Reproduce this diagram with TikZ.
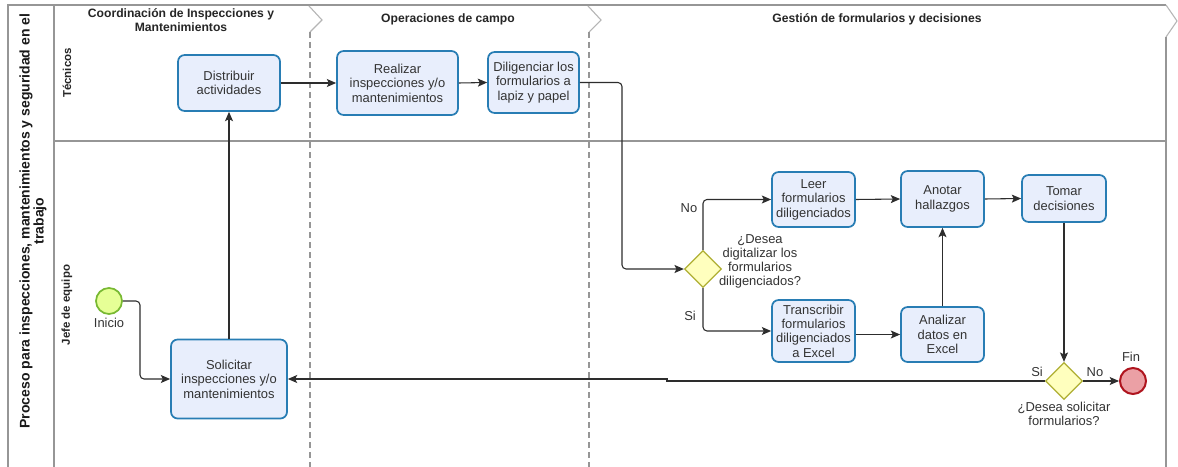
\documentclass[tikz,border=0pt]{standalone}
\usepackage{fontspec}
\setmainfont{Liberation Sans}
\usetikzlibrary{shapes.geometric,arrows.meta}
\definecolor{taskfill}{RGB}{232,238,252}
\definecolor{taskdraw}{RGB}{40,125,180}
\definecolor{txt}{RGB}{51,51,51}
\definecolor{gwfill}{RGB}{255,255,190}
\definecolor{gwdraw}{RGB}{175,175,50}
\definecolor{stfill}{RGB}{230,255,150}
\definecolor{stdraw}{RGB}{120,185,50}
\definecolor{enfill}{RGB}{235,160,165}
\definecolor{endraw}{RGB}{175,20,30}
\definecolor{poolc}{RGB}{150,150,150}
\definecolor{connc}{RGB}{45,45,45}
\begin{document}
\begin{tikzpicture}[x=0.75pt,y=-0.75pt,
  task/.style={draw=taskdraw, fill=taskfill, line width=1.3pt, rounded corners=5pt,
    text=txt, align=center, font=\fontsize{9.7}{10.8}\selectfont, inner sep=1pt},
  gateway/.style={diamond, aspect=1, draw=gwdraw, fill=gwfill, line width=1pt,
    minimum width=27.75pt, minimum height=27.75pt, inner sep=0pt},
  startev/.style={circle, draw=stdraw, fill=stfill, line width=1.3pt, minimum size=19.5pt, inner sep=0pt},
  endev/.style={circle, draw=endraw, fill=enfill, line width=1.5pt, minimum size=19.5pt, inner sep=0pt},
  lbl/.style={text=txt, align=center, font=\fontsize{9.7}{10.5}\selectfont, inner sep=0pt},
  hdr/.style={text=black!85, align=center, font=\bfseries\fontsize{9.1}{10.5}\selectfont, inner sep=0pt},
  lanelbl/.style={text=black!85, rotate=90, font=\bfseries\fontsize{8.6}{10}\selectfont, inner sep=0pt},
  poolline/.style={draw=poolc, line width=1pt},
  phasesep/.style={draw=poolc, line width=0.9pt, dash pattern=on 4.5pt off 3pt},
  chev/.style={draw=poolc!70, line width=0.8pt},
  conn/.style={draw=connc, line width=0.8pt, rounded corners=3pt, -{Stealth[length=7pt,width=6pt,inset=1.5pt]}}
]
\useasboundingbox (0,0) rectangle (1178,467);
\fill[white] (0,0) rectangle (1178,467);

% pool frame
\draw[poolline] (8,467) -- (8,5) -- (1166,5);
\draw[chev] (1166,5) -- (1177,21) -- (1166,37);
\draw[poolline] (1166,37) -- (1166,467);
\draw[poolline] (54,5) -- (54,467);
\draw[poolline] (54,141) -- (1166,141);

% phase separators
\draw[chev] (309,6) -- (322,20) -- (310,32);
\draw[phasesep] (310,32) -- (310,467);
\draw[chev] (588,6) -- (601,20) -- (589,32);
\draw[phasesep] (589,32) -- (589,467);

% labels of pool, lanes and phases
\node[rotate=90, align=center, text=black!90, font=\bfseries\fontsize{10.5}{10.5}\selectfont, inner sep=0pt] (poollabel) at (33,221)
  {Proceso para inspecciones, mantenimientos y seguridad en el\\trabajo};
\node[lanelbl] (lane1) at (67,73) {Técnicos};
\node[lanelbl] (lane2) at (67,305) {Jefe de equipo};
\node[hdr] (ph1) at (181,20) {Coordinación de Inspecciones y\\Mantenimientos};
\node[hdr] (ph2) at (448,19) {Operaciones de campo};
\node[hdr] (ph3) at (877,19) {Gestión de formularios y decisiones};

% tasks
\node[task, minimum width=76.5pt, minimum height=42pt] (dist) at (229,83) {Distribuir\\actividades};
\node[task, minimum width=90.75pt, minimum height=48pt] (real) at (397.5,83) {Realizar\\inspecciones y/o\\mantenimientos};
\node[task, minimum width=68.25pt, minimum height=45.75pt] (dili) at (533.5,82.5) {Diligenciar los\\formularios a\\lapiz y papel};
\node[task, minimum width=87pt, minimum height=59.25pt] (soli) at (229,379) {Solicitar\\inspecciones y/o\\mantenimientos};
\node[task, minimum width=62.25pt, minimum height=41.25pt] (leer) at (813.5,199.5) {Leer\\formularios\\diligenciados};
\node[task, minimum width=62.25pt, minimum height=42pt] (anot) at (942.5,199) {Anotar\\hallazgos};
\node[task, minimum width=62.25pt, minimum height=46.5pt] (tran) at (813.5,331) {Transcribir\\formularios\\diligenciados\\a Excel};
\node[task, minimum width=62.25pt, minimum height=41.25pt] (anal) at (942.5,334.5) {Analizar\\datos en\\Excel};
\node[task, minimum width=63pt, minimum height=35.25pt] (toma) at (1064,198.5) {Tomar\\decisiones};

% events and gateways
\node[startev] (ini) at (109,301) {};
\node[lbl] (inilbl) at (109,323) {Inicio};
\node[endev] (fin) at (1133,381) {};
\node[lbl] (finlbl) at (1131,357) {Fin};
\node[gateway] (gw1) at (703,269) {};
\node[lbl] (gw1lbl) at (760,261) {¿Desea\\digitalizar los\\formularios\\diligenciados?};
\node[gateway] (gw2) at (1064,381) {};
\node[lbl] (gw2lbl) at (1064,414) {¿Desea solicitar\\formularios?};

% connector labels
\node[lbl] (lno1) at (689,208) {No};
\node[lbl] (lsi1) at (690,316) {Si};
\node[lbl] (lsi2) at (1037,372) {Si};
\node[lbl] (lno2) at (1095,372) {No};

\coordinate (c1) at (140,301);
\coordinate (c2) at (622,82.5);
\coordinate (j1) at (667,381);
\coordinate (j2) at (667,379);

% connectors
\draw[conn] (ini.east) -- (c1) |- (soli.west);
\draw[conn] (soli.north) -- (dist.south);
\draw[conn] (dist.east) -- (real.west);
\draw[conn] (real.east) -- (dili.west);
\draw[conn] (dili.east) -- (c2) |- (gw1.west);
\draw[conn] (gw1.north) |- (leer.west);
\draw[conn] (gw1.south) |- (tran.west);
\draw[conn] (leer.east) -- (anot.west);
\draw[conn] (tran.east |- anal.west) -- (anal.west);
\draw[conn] (anal.north) -- (anot.south);
\draw[conn] (anot.east) -- (toma.west);
\draw[conn] (toma.south) -- (gw2.north);
\draw[conn] (gw2.east) -- (fin.west);
\draw[conn, rounded corners=0pt] (gw2.west) -- (j1) -- (j2) -- (soli.east);
\end{tikzpicture}
\end{document}
